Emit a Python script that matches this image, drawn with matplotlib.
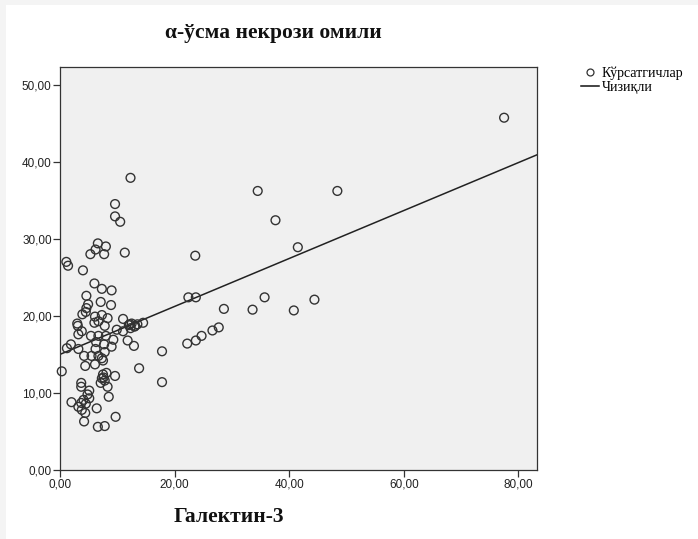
import matplotlib
matplotlib.use('Agg')
import matplotlib.pyplot as plt
from matplotlib.patches import Rectangle
from matplotlib.lines import Line2D
from matplotlib.ticker import FuncFormatter

# Data
galectin = [77.5, 48.4, 34.5, 37.6, 41.5, 23.6, 22.4, 23.7, 35.7, 44.4,
            28.6, 33.6, 40.8, 26.6, 27.7, 24.7, 23.7, 22.2, 17.8, 17.8,
            6.6, 8.0, 6.2, 5.3, 7.7, 11.3, 1.1, 1.4, 4.0, 6.0,
            7.3, 9.0, 4.6, 7.1, 8.9, 4.9, 4.6, 4.5, 3.9, 6.1,
            7.3, 8.3, 11.0, 6.0, 6.7, 3.0, 3.1, 7.8, 12.2, 13.1,
            14.5, 9.9, 11.0, 3.8, 3.2, 5.4, 6.7, 8.0, 9.3, 11.8,
            6.3, 7.7, 12.9, 1.9, 1.2, 3.2, 6.2, 9.0, 7.8, 6.7,
            4.2, 5.5, 7.3, 7.5, 0.3, 4.4, 6.1, 13.8, 7.5, 9.6,
            7.3, 7.8, 7.1, 8.3, 3.7, 3.7, 5.1, 4.8, 5.1, 8.5,
            4.1, 2.0, 3.7, 4.5, 3.2, 6.4, 3.8, 4.4, 9.7, 4.2,
            6.6, 7.8, 12.3, 9.6, 9.6, 10.5, 12.0, 12.5, 13.0, 13.5,
            12.3, 7.6, 8.1]
tnf_alpha = [45.7, 36.2, 36.2, 32.4, 28.9, 27.8, 22.4, 22.4, 22.4, 22.1,
             20.9, 20.8, 20.7, 18.1, 18.5, 17.4, 16.8, 16.4, 15.4, 11.4,
             29.4, 29.0, 28.6, 28.0, 28.0, 28.2, 27.0, 26.5, 25.9, 24.2,
             23.5, 23.3, 22.6, 21.8, 21.4, 21.5, 21.0, 20.5, 20.2, 19.9,
             20.1, 19.7, 19.6, 19.1, 19.3, 19.0, 18.7, 18.7, 18.9, 18.7,
             19.1, 18.2, 18.0, 18.0, 17.6, 17.4, 17.4, 17.4, 16.9, 16.8,
             16.6, 16.3, 16.1, 16.3, 15.8, 15.7, 15.7, 16.0, 15.3, 14.8,
             14.8, 14.8, 14.5, 14.2, 12.8, 13.5, 13.7, 13.2, 12.4, 12.2,
             11.9, 11.6, 11.3, 10.8, 11.3, 10.8, 10.3, 9.8, 9.3, 9.5,
             9.1, 8.8, 8.7, 8.6, 8.2, 8.0, 7.8, 7.4, 6.9, 6.3,
             5.6, 5.7, 37.9, 34.5, 32.9, 32.2, 18.8, 19.0, 18.6, 18.9,
             18.4, 12.0, 12.6]

# linear fit line as drawn in the reference
fit_intercept = 15.0
fit_slope = 0.311

x_ticks = [0, 20, 40, 60, 80]
y_ticks = [0, 10, 20, 30, 40, 50]

title = 'α-ўсма некрози омили'
x_label = 'Галектин-3'
legend_labels = ['Кўрсатгичлар', 'Чизиқли']


def draw():
    fig = plt.figure(figsize=(6.98, 5.39), dpi=100, facecolor='#f4f4f4')
    # white page inside the light grey border
    fig.patches.append(Rectangle((0.009, 0.0), 0.991, 0.99, transform=fig.transFigure,
                                 facecolor='white', edgecolor='none', zorder=-5))

    ax = fig.add_axes([0.086, 0.128, 0.683, 0.748])
    ax.set_facecolor('#f0f0f0')
    for s in ax.spines.values():
        s.set_color('#333333')
        s.set_linewidth(0.9)

    ax.scatter(galectin, tnf_alpha, s=40, facecolors='none', edgecolors='#333333',
               linewidths=1.0, zorder=3, clip_on=False)

    xmin, xmax = 0, 83.2
    ax.plot([xmin, xmax], [fit_intercept + fit_slope * xmin, fit_intercept + fit_slope * xmax],
            color='#222222', lw=1.1, zorder=2)

    ax.set_xlim(xmin, xmax)
    ax.set_ylim(0, 52.3)
    ax.set_xticks(x_ticks)
    ax.set_yticks(y_ticks)
    fmt = FuncFormatter(lambda v, p: f'{v:.2f}'.replace('.', ','))
    ax.xaxis.set_major_formatter(fmt)
    ax.yaxis.set_major_formatter(fmt)
    ax.tick_params(direction='out', length=5, width=0.9, color='#333333',
                   labelsize=8.5, labelcolor='#222222', pad=1)
    for lab in ax.get_xticklabels() + ax.get_yticklabels():
        lab.set_family('Liberation Sans')

    fig.text(0.391, 0.938, title, ha='center', va='center', fontsize=15.5,
             fontweight='bold', family='Liberation Serif', color='#111111')
    fig.text(0.328, 0.040, x_label, ha='center', va='center', fontsize=15.5,
             fontweight='bold', family='Liberation Serif', color='#111111')

    handles = [Line2D([], [], marker='o', ls='none', mfc='none', mec='#333333', ms=5, mew=0.9),
               Line2D([], [], color='#111111', lw=1.1)]
    fig.legend(handles, legend_labels, loc='upper left', bbox_to_anchor=(0.818, 0.895),
               frameon=False, prop={'family': 'Liberation Serif', 'size': 10},
               handlelength=1.3, handletextpad=0.2, labelspacing=0.1, borderpad=0.2)

    plt.savefig('out.png', dpi=100, facecolor=fig.get_facecolor())


if __name__ == '__main__':
    draw()
